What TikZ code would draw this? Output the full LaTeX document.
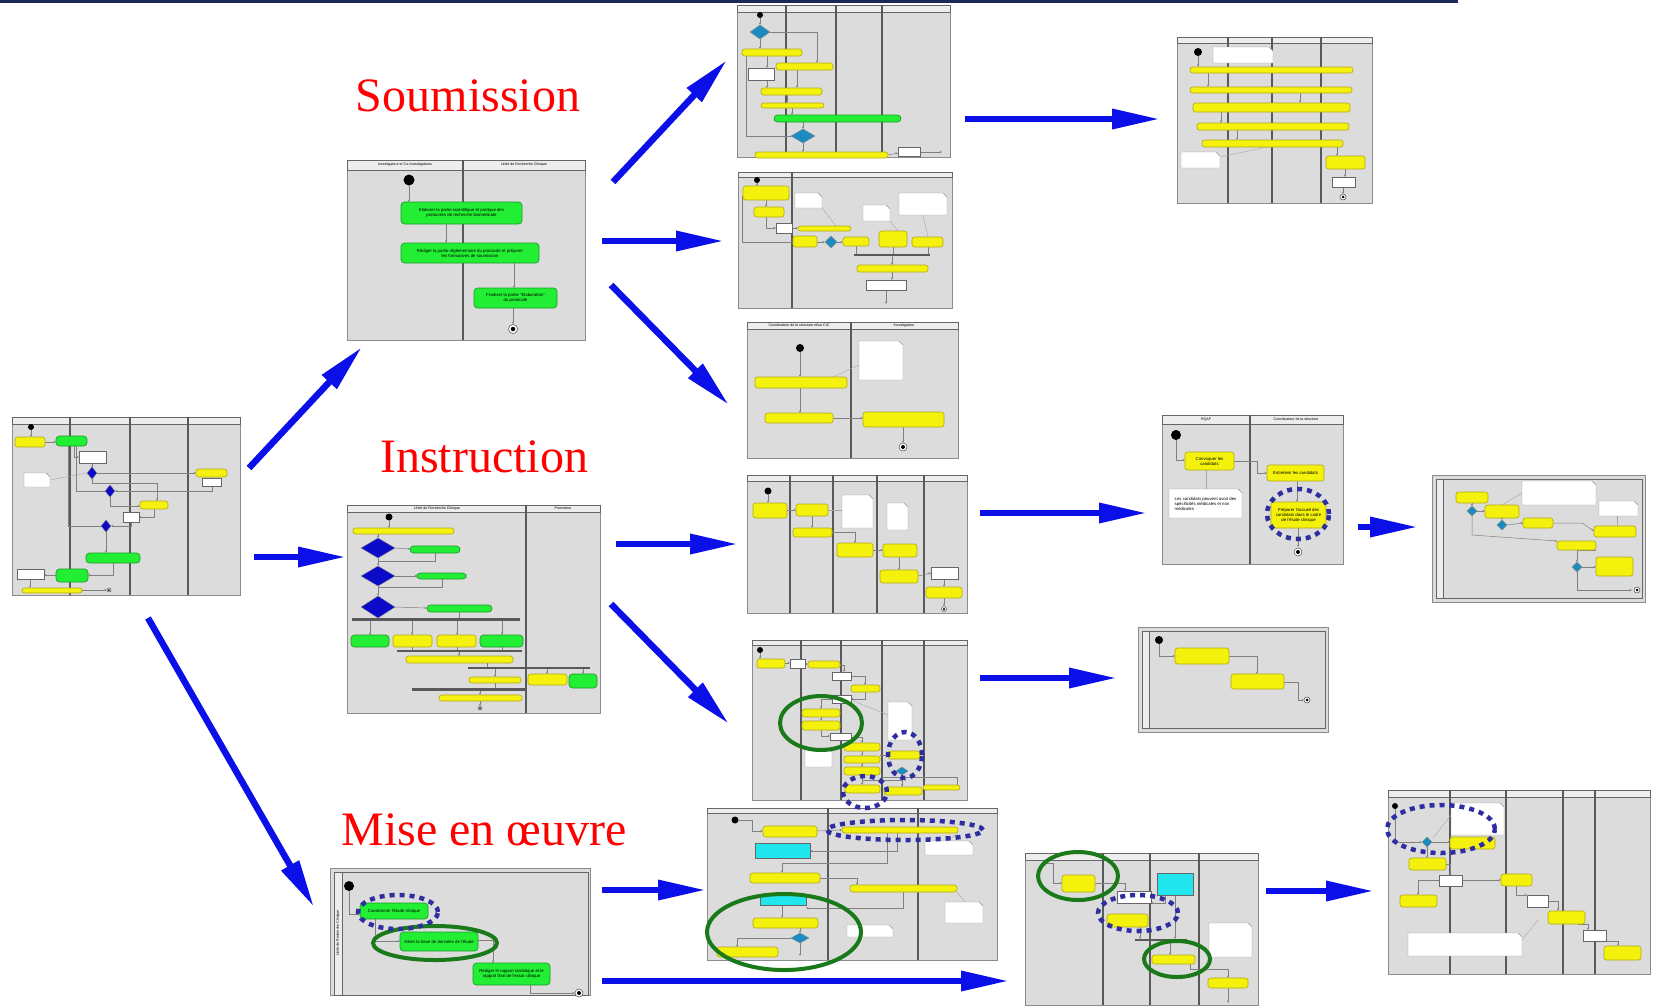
\documentclass[tikz,border=0pt]{standalone}
\usepackage{fontspec}
\setmainfont{Liberation Serif}
\newfontfamily\tf{Liberation Sans}
\usetikzlibrary{arrows.meta,shapes.geometric}
\definecolor{navyline}{HTML}{1B2A55}
\definecolor{thumbbg}{HTML}{DCDCDC}
\definecolor{hdrbg}{HTML}{EDEDED}
\definecolor{yfill}{HTML}{F4F20C}
\definecolor{ydraw}{HTML}{B0A818}
\definecolor{gfill}{HTML}{22EE33}
\definecolor{gdraw}{HTML}{1E9A2A}
\definecolor{bdia}{HTML}{0A0AC8}
\definecolor{tdia}{HTML}{1A8CC0}
\definecolor{cfill}{HTML}{22E6EE}
\definecolor{arrowblue}{HTML}{0C10E8}
\definecolor{ringgreen}{HTML}{1A7A1A}
\definecolor{ringblue}{HTML}{2E2EA0}
\definecolor{labelred}{HTML}{FF0000}
\tikzset{
 thumb/.style={fill=thumbbg, draw=black!45, line width=0.8pt},
 hdr/.style={fill=hdrbg, draw=black!60, line width=0.5pt},
 lanesep/.style={draw=black!65, line width=1.2pt},
 ybox/.style={fill=yfill, draw=ydraw, line width=0.6pt, rounded corners=2.5pt},
 gbox/.style={fill=gfill, draw=gdraw, line width=0.7pt, rounded corners=3.5pt},
 cbox/.style={fill=cfill, draw=black!60, line width=0.6pt},
 wbox/.style={fill=white, draw=black!60, line width=0.7pt},
 notebox/.style={fill=white, draw=black!40, line width=0.4pt},
 flow/.style={draw=black!50, line width=0.5pt},
 flowa/.style={draw=black!50, line width=0.5pt, -{Stealth[length=2.5pt,width=2.2pt]}},
 dline/.style={draw=black!35, line width=0.4pt},
 bar/.style={fill=black!65, draw=none},
 bigarrow/.style={draw=arrowblue, line width=6.5pt, -{Triangle[length=48pt,width=19pt]}},
 greenring/.style={draw=ringgreen, line width=4pt},
 bluering/.style={draw=ringblue, line width=4.5pt, dash pattern=on 5pt off 5pt},
 biglabel/.style={text=labelred, font=\fontsize{48}{56}\selectfont, inner sep=0pt, anchor=base},
 ttext/.style={font=\tf\fontsize{4.3}{5}\selectfont, align=center, inner sep=0pt},
 htext/.style={font=\tf\fontsize{3.6}{4}\selectfont, inner sep=0pt},
}
\newcommand\YB[4]{\draw[ybox] (#1,#2) rectangle (#3,#4);}
\newcommand\GB[4]{\draw[gbox] (#1,#2) rectangle (#3,#4);}
\newcommand\WB[4]{\draw[wbox] (#1,#2) rectangle (#3,#4);}
\newcommand\CB[4]{\draw[cbox] (#1,#2) rectangle (#3,#4);}
\newcommand\NB[4]{\draw[notebox] (#1,#2) -- ({#3-4},#2) -- (#3,{#2+4}) -- (#3,#4) -- (#1,#4) -- cycle;}
\newcommand\DIA[5]{\draw[fill=#5, draw=black!45, line width=0.4pt] ({#1-#3},#2) -- (#1,{#2-#4}) -- ({#1+#3},#2) -- (#1,{#2+#4}) -- cycle;}
\newcommand\STARTDOT[3]{\fill[black] (#1,#2) circle (#3pt);}
\newcommand\ENDDOT[3]{\draw[fill=white, draw=black!70, line width=0.5pt] (#1,#2) circle (#3pt); \fill[black] (#1,#2) circle ({#3*0.5pt});}
\newcommand\FRAME[3]{\draw[thumb] (0,0) rectangle (#1,#2); \draw[hdr] (0,0) rectangle (#1,#3);}
\newcommand\SEP[2]{\draw[lanesep] (#1,0) -- (#1,#2);}
\newcommand\BAR[4]{\fill[bar] (#1,#2) rectangle (#3,#4);}
\begin{document}
\begin{tikzpicture}[x=1pt,y=-1pt]
\useasboundingbox (0,0) rectangle (1657,1005);
\fill[white] (0,0) rectangle (1657,1005);
\fill[navyline] (0,0) rectangle (1458,2.5);

% ---------- Thumb 1: overview (left)
\begin{scope}[shift={(12,417)}]
\FRAME{228}{178}{7}
\SEP{58}{178}\SEP{118}{178}\SEP{176}{178}
\draw[flow] (64,29)--(64,74)--(93,74);
\draw[flow] (56,29)--(56,109)--(89,109);
\draw[flowa] (19,12)--(19,20);
\draw[flowa] (33,25)--(44,25);
\draw[flowa] (62,29)--(62,40)--(67,40);
\draw[flowa] (80,46)--(80,51);
\draw[flowa] (85,56)--(184,56);
\draw[flowa] (80,61)--(80,66)--(145,66)--(145,84);
\draw[flowa] (200,60)--(200,61);
\draw[flowa] (200,69)--(200,74)--(103,74);
\draw[flowa] (98,79)--(98,89)--(128,89);
\draw[flowa] (142,92)--(142,100)--(127,100);
\draw[flowa] (119,105)--(119,109)--(99,109);
\draw[flowa] (94,114)--(94,136);
\draw[flowa] (101,146)--(101,158)--(76,158);
\draw[flowa] (44,158)--(32,158);
\draw[flowa] (18,162)--(18,171);
\draw[flowa] (70,173)--(95,173);
\draw[dline] (38,63)--(75,56);
\STARTDOT{19}{10}{3}
\YB{3}{20}{33}{30}
\GB{44}{19}{75}{29}
\WB{67}{34}{94}{46}
\DIA{80}{56}{5}{6}{bdia}
\YB{184}{52}{215}{60}
\WB{190}{61}{209}{69}
\NB{12}{56}{38}{70}
\DIA{98}{74}{5}{6}{bdia}
\YB{128}{84}{156}{92}
\WB{111}{95}{127}{105}
\DIA{94}{109}{5}{6}{bdia}
\GB{74}{136}{128}{146}
\WB{5}{152}{32}{162}
\GB{44}{152}{76}{165}
\YB{10}{171}{70}{176}
\ENDDOT{97}{173}{2}
\end{scope}

% ---------- Thumb 2: Soumission
\begin{scope}[shift={(347,160)}]
\FRAME{238}{180}{10}
\SEP{116}{180}
\node[htext] (h2a) at (58,5) {Investigateur et Co-Investigateurs};
\node[htext] (h2b) at (177,5) {Unité de Recherche Clinique};
\STARTDOT{62}{20}{5.5}
\draw[flowa] (62,26)--(62,42);
\GB{54}{42}{175}{64}
\node[ttext] (t2a) at (114.5,53) {Elaborer la partie scientifique et pratique des\\protocoles de recherche biomédicale};
\draw[flowa] (99,64)--(99,83);
\GB{54}{83}{192}{103}
\node[ttext] (t2b) at (123,93) {Rédiger la partie réglementaire du protocole et préparer\\les formulaires de soumission};
\draw[flowa] (167,103)--(167,128);
\GB{127}{128}{210}{148}
\node[ttext] (t2c) at (168.5,138) {Finaliser la partie "Elaboration"\\du protocole};
\draw[flowa] (166,148)--(166,164);
\ENDDOT{166}{169}{4.5}
\end{scope}

% ---------- Thumb 3: Instruction
\begin{scope}[shift={(347,505)}]
\FRAME{253}{208}{7}
\SEP{179}{208}
\node[htext] (h3a) at (90,3.5) {Unité de Recherche Clinique};
\node[htext] (h3b) at (216,3.5) {Promoteur};
\STARTDOT{42}{12}{3.5}
\draw[flowa] (42,15)--(42,23);
\YB{6}{23}{107}{29}
\draw[flowa] (31,29)--(31,33);
\draw[flowa] (48,43)--(63,44);
\draw[flow] (88,48)--(88,56)--(31,56);
\draw[flowa] (31,53)--(31,61);
\draw[flowa] (48,71)--(70,71);
\draw[flow] (95,74)--(95,82)--(31,82);
\draw[flowa] (31,81)--(31,91);
\draw[flowa] (48,102)--(80,103);
\draw[flow] (31,113)--(31,114);
\draw[flow] (112,107)--(112,113);
\DIA{31}{43}{17}{10}{bdia}
\GB{63}{41}{113}{48}
\DIA{31}{71}{17}{10}{bdia}
\GB{70}{68}{119}{74}
\DIA{31}{102}{17}{11}{bdia}
\GB{80}{100}{145}{107}
\BAR{5}{113}{173}{116}
\draw[flowa] (23,116)--(23,130);
\draw[flowa] (65,116)--(65,130);
\draw[flowa] (110,116)--(110,130);
\draw[flowa] (155,116)--(155,130);
\GB{4}{130}{42}{142}
\YB{46}{130}{85}{142}
\YB{90}{130}{129}{142}
\GB{133}{130}{176}{142}
\draw[flow] (65,142)--(65,145);
\draw[flow] (110,142)--(110,145);
\draw[flow] (155,142)--(155,145);
\BAR{50}{145}{175}{147}
\draw[flowa] (112,147)--(112,151);
\YB{59}{151}{166}{158}
\draw[flow] (140,158)--(140,162);
\BAR{121}{162}{243}{164}
\draw[flowa] (148,164)--(148,172);
\draw[flowa] (200,164)--(200,169);
\draw[flowa] (236,164)--(236,169);
\YB{122}{172}{174}{178}
\YB{181}{169}{220}{180}
\GB{222}{169}{250}{183}
\draw[flow] (148,178)--(148,183);
\BAR{65}{183}{180}{186}
\draw[flowa] (133,186)--(133,190);
\YB{92}{190}{175}{196}
\draw[flowa] (133,196)--(133,201);
\ENDDOT{133}{203}{2}
\end{scope}

% ---------- Thumb 4: Mise en oeuvre
\begin{scope}[shift={(330,868)}]
\draw[thumb] (0,0) rectangle (260,127);
\draw[draw=black!60, line width=0.6pt] (4,4) rectangle (258,127);
\draw[hdr] (4,4) rectangle (12,127);
\node[htext, rotate=90] (h4a) at (8,65) {Unité de Recherche Clinique};
\STARTDOT{19}{18}{5}
\draw[flowa] (19,23)--(19,46)--(30,46);
\draw[flowa] (45,51)--(45,73)--(70,73);
\draw[flowa] (148,72)--(163,72)--(163,95);
\draw[flowa] (200,117)--(200,125)--(245,125);
\GB{30}{35}{98}{51}
\node[ttext] (t4a) at (64,43) {Coordonner l'étude clinique};
\GB{70}{64}{148}{83}
\node[ttext] (t4b) at (109,73.5) {Gérer la base de données de l'étude};
\GB{143}{95}{220}{117}
\node[ttext] (t4c) at (181.5,106) {Rédiger le rapport statistique et le\\rapport final de l'essai clinique};
\ENDDOT{249}{125}{4}
\end{scope}

% ---------- Thumb 5 (top middle)
\begin{scope}[shift={(737,5)}]
\FRAME{213}{152}{7}
\SEP{49}{152}\SEP{99}{152}\SEP{145}{152}
\draw[flow] (54,131)--(9,131)--(9,51);
\STARTDOT{23}{10}{3}
\draw[flowa] (23,13)--(23,20);
\draw[flowa] (33,27)--(80,27)--(80,58);
\draw[flowa] (23,34)--(23,44);
\draw[flowa] (30,51)--(30,63);
\draw[flowa] (30,75)--(30,83);
\draw[flowa] (60,65)--(60,83);
\draw[flowa] (50,90)--(50,98);
\draw[flowa] (55,103)--(55,110);
\draw[flowa] (66,117)--(66,124);
\draw[flowa] (66,138)--(66,147);
\draw[flowa] (151,150)--(161,148);
\draw[flowa] (183,147)--(205,147);
\DIA{23}{27}{10}{7}{tdia}
\YB{5}{44}{65}{51}
\WB{11}{63}{37}{75}
\YB{39}{58}{96}{65}
\YB{24}{83}{85}{90}
\YB{24}{98}{87}{103}
\GB{37}{110}{164}{117}
\DIA{66}{131}{12}{7}{tdia}
\YB{18}{147}{151}{153}
\WB{161}{142}{183}{151}
\end{scope}

% ---------- Thumb 6
\begin{scope}[shift={(738,172)}]
\FRAME{214}{136}{5}
\SEP{54}{136}
\draw[flow] (4,24)--(4,70)--(55,70);
\STARTDOT{19}{8}{3}
\draw[flowa] (19,11)--(19,14);
\draw[flowa] (28,28)--(28,35);
\draw[flowa] (28,45)--(28,56)--(38,56);
\draw[flowa] (54,56)--(60,56);
\draw[flowa] (79,70)--(87,70);
\draw[flowa] (99,70)--(105,70);
\draw[flow] (118,74)--(118,82);
\draw[flow] (155,75)--(155,82);
\draw[flow] (190,75)--(190,82);
\draw[flowa] (154,84)--(154,93);
\draw[flowa] (154,100)--(154,108);
\draw[flowa] (148,118)--(148,132);
\draw[dline] (84,36)--(98,54);
\draw[dline] (152,49)--(160,59);
\draw[dline] (185,43)--(190,65);
\YB{5}{14}{51}{28}
\YB{16}{35}{46}{45}
\WB{38}{51}{54}{61}
\NB{57}{21}{84}{36}
\YB{60}{54}{113}{59}
\YB{55}{64}{79}{75}
\DIA{93}{70}{6}{6}{tdia}
\YB{105}{65}{131}{74}
\NB{125}{33}{152}{49}
\YB{141}{59}{169}{75}
\NB{161}{21}{209}{43}
\YB{174}{65}{205}{75}
\BAR{116}{82}{192}{84}
\YB{119}{93}{190}{100}
\WB{128}{108}{168}{118}
\end{scope}

% ---------- Thumb 7
\begin{scope}[shift={(747,322)}]
\FRAME{211}{136}{7}
\SEP{104}{136}
\node[htext] (h7a) at (52,3.5) {Coordinateur de la structure et/ou CIC};
\node[htext] (h7b) at (157,3.5) {Investigateur};
\STARTDOT{53}{26}{4}
\draw[flowa] (53,30)--(53,55);
\draw[flowa] (53,66)--(53,91);
\draw[flowa] (86,96)--(116,96);
\draw[dline] (86,55)--(118,40);
\draw[flowa] (156,105)--(156,121);
\YB{8}{55}{100}{66}
\YB{18}{91}{86}{101}
\NB{112}{19}{156}{58}
\YB{116}{90}{197}{105}
\ENDDOT{156}{125}{4}
\end{scope}

% ---------- Thumb 8
\begin{scope}[shift={(747,475)}]
\FRAME{220}{138}{6}
\SEP{43}{138}\SEP{86}{138}\SEP{130}{138}\SEP{177}{138}
\STARTDOT{21}{16}{3.5}
\draw[flowa] (21,19)--(21,28);
\draw[flowa] (40,35)--(49,35);
\draw[flowa] (65,41)--(65,53);
\draw[flowa] (85,57)--(108,57)--(108,68);
\draw[flowa] (126,75)--(136,75);
\draw[flowa] (152,82)--(152,95);
\draw[flowa] (171,101)--(184,98);
\draw[flowa] (197,104)--(197,112);
\draw[flowa] (197,123)--(197,131);
\draw[dline] (81,35)--(95,35);
\YB{6}{28}{40}{43}
\YB{49}{29}{81}{41}
\YB{46}{53}{85}{62}
\NB{95}{20}{126}{53}
\YB{90}{68}{126}{82}
\NB{140}{28}{161}{55}
\YB{136}{69}{170}{82}
\YB{133}{95}{171}{108}
\WB{184}{92}{211}{104}
\YB{179}{112}{215}{123}
\ENDDOT{197}{134}{2.5}
\end{scope}

% ---------- Thumb 9
\begin{scope}[shift={(752,640)}]
\FRAME{215}{160}{5}
\SEP{49}{160}\SEP{89}{160}\SEP{130}{160}\SEP{172}{160}
\STARTDOT{8}{10}{3}
\draw[flowa] (8,13)--(8,19);
\draw[flowa] (33,23)--(38,23);
\draw[flowa] (53,24)--(56,24);
\draw[flowa] (88,25)--(92,25)--(92,32);
\draw[flowa] (99,36)--(113,36)--(113,45);
\draw[flowa] (113,52)--(113,59)--(99,59);
\draw[flowa] (80,59)--(69,59)--(69,69);
\draw[flowa] (69,77)--(69,81);
\draw[flowa] (69,90)--(69,96)--(78,96);
\draw[flowa] (99,97)--(110,97)--(110,103);
\draw[flowa] (110,111)--(110,116);
\draw[flowa] (110,123)--(110,127);
\draw[flowa] (128,115)--(136,115);
\draw[flow] (110,135)--(110,140)--(150,140)--(150,135);
\draw[flow] (130,137)--(205,137)--(205,145);
\draw[flowa] (110,140)--(110,145);
\draw[flowa] (150,135)--(150,147);
\draw[dline] (99,60)--(136,75);
\YB{5}{19}{33}{28}
\WB{38}{19}{53}{28}
\YB{56}{21}{88}{28}
\WB{80}{32}{99}{40}
\YB{99}{45}{128}{52}
\WB{80}{55}{99}{63}
\YB{50}{69}{88}{77}
\YB{50}{81}{88}{90}
\WB{78}{93}{99}{100}
\NB{136}{62}{160}{100}
\NB{53}{108}{80}{127}
\YB{92}{103}{128}{111}
\YB{92}{116}{128}{123}
\YB{92}{127}{128}{135}
\YB{136}{111}{168}{119}
\DIA{150}{131}{6}{4}{tdia}
\YB{93}{145}{128}{153}
\YB{132}{147}{170}{155}
\YB{171}{145}{208}{150}
\end{scope}

% ---------- Thumb 10
\begin{scope}[shift={(707,808)}]
\FRAME{290}{152}{5}
\SEP{121}{152}\SEP{211}{152}
\STARTDOT{28}{12}{3.5}
\draw[flowa] (31,12)--(45,12)--(45,23)--(56,23);
\draw[flowa] (110,23)--(135,22);
\draw[flowa] (190,25)--(190,43)--(103,43);
\draw[flowa] (180,25)--(180,55)--(75,55)--(75,65);
\draw[flowa] (113,70)--(150,70)--(150,77);
\draw[flowa] (196,84)--(196,100)--(99,100);
\draw[flowa] (75,97)--(75,110);
\draw[flowa] (93,120)--(93,125);
\draw[flowa] (84,130)--(30,130)--(30,139);
\draw[flowa] (93,135)--(93,148);
\draw[dline] (251,25)--(240,33);
\draw[dline] (250,84)--(258,94);
\YB{56}{18}{110}{29}
\YB{135}{19}{251}{25}
\CB{48}{35}{103}{50}
\NB{218}{33}{266}{47}
\YB{43}{65}{113}{75}
\YB{143}{77}{250}{84}
\CB{53}{86}{99}{97}
\NB{238}{94}{276}{115}
\YB{46}{110}{111}{120}
\NB{140}{117}{186}{129}
\DIA{93}{130}{9}{5}{tdia}
\YB{10}{139}{71}{149}
\end{scope}

% ---------- Thumb 11
\begin{scope}[shift={(1025,853)}]
\FRAME{233}{152}{7}
\SEP{78}{152}\SEP{125}{152}\SEP{174}{152}
\draw[flowa] (20,10)--(28,10)--(28,30)--(37,30);
\draw[flowa] (70,30)--(100,30)--(100,38);
\draw[flowa] (150,42)--(150,86);
\draw[flowa] (140,42)--(140,50)--(126,50);
\draw[flowa] (115,74)--(115,86);
\draw[flowa] (145,88)--(145,102);
\draw[flowa] (165,111)--(165,116)--(203,116)--(203,125);
\draw[flowa] (203,135)--(203,150);
\YB{37}{22}{70}{39}
\CB{132}{20}{168}{42}
\WB{92}{38}{126}{50}
\YB{82}{61}{123}{74}
\BAR{110}{86}{162}{88}
\YB{127}{102}{170}{111}
\NB{184}{70}{227}{104}
\YB{183}{125}{223}{135}
\end{scope}

% ---------- Thumb 12 (top right)
\begin{scope}[shift={(1177,37)}]
\FRAME{195}{166}{6}
\SEP{51}{166}\SEP{95}{166}\SEP{144}{166}
\STARTDOT{21}{15}{4}
\draw[flowa] (21,19)--(21,30);
\draw[flowa] (31,36)--(31,50);
\draw[flowa] (123,56)--(123,66);
\draw[flowa] (44,75)--(44,86);
\draw[flowa] (60,93)--(60,103);
\draw[flowa] (160,110)--(160,119);
\draw[flowa] (168,132)--(168,140);
\draw[flowa] (166,150)--(166,157);
\draw[dline] (43,120)--(90,110);
\NB{36}{10}{96}{26}
\YB{13}{30}{176}{36}
\YB{13}{50}{175}{56}
\YB{16}{66}{173}{75}
\YB{20}{86}{172}{93}
\YB{25}{103}{166}{110}
\NB{4}{115}{43}{131}
\YB{149}{119}{188}{132}
\WB{155}{140}{178}{150}
\ENDDOT{166}{160}{3}
\end{scope}

% ---------- Thumb 13
\begin{scope}[shift={(1162,415)}]
\FRAME{181}{149}{9}
\SEP{88}{149}
\node[htext] (h13a) at (44,4.5) {RQAF};
\node[htext] (h13b) at (134,4.5) {Coordinateur de la structure};
\STARTDOT{14}{20}{5}
\draw[flowa] (14,25)--(14,45)--(23,45);
\draw[flowa] (72,46)--(95,46)--(95,58)--(105,58);
\draw[flowa] (135,66)--(135,87);
\draw[flowa] (136,113)--(136,132);
\draw[dline] (44,55)--(44,74);
\YB{23}{37}{72}{55}
\node[ttext] (t13a) at (47.5,46) {Convoquer les\\candidats};
\YB{105}{50}{162}{66}
\node[ttext] (t13b) at (133.5,58) {Entretenir les candidats};
\YB{109}{87}{164}{113}
\node[ttext] (t13c) at (136.5,100) {Préparer l'accueil des\\candidats dans le cadre\\de l'étude clinique};
\NB{7}{74}{80}{103}
\node[ttext, align=left] (t13d) at (43.5,88.5) {Les candidats peuvent avoir des\\spécificités médicales et non\\médicales};
\ENDDOT{136}{137}{4}
\end{scope}

% ---------- Thumb 14
\begin{scope}[shift={(1432,475)}]
\draw[thumb] (0,0) rectangle (213,127);
\draw[draw=black!60, line width=0.6pt] (4,4) rectangle (210,123);
\draw[hdr] (4,4) rectangle (11,123);
\draw[flowa] (40,28)--(40,31);
\draw[flowa] (45,36)--(53,36);
\draw[flowa] (70,43)--(70,45);
\draw[flowa] (75,50)--(91,48);
\draw[flowa] (40,41)--(40,60)--(125,66);
\draw[flowa] (121,48)--(150,48)--(162,56);
\draw[flowa] (164,75)--(145,75)--(145,87);
\draw[flowa] (150,92)--(164,92);
\draw[flowa] (145,97)--(145,115)--(200,115);
\draw[dline] (90,18)--(70,30);
\draw[dline] (185,41)--(185,51);
\YB{24}{17}{56}{28}
\DIA{40}{36}{5}{5}{tdia}
\YB{53}{30}{87}{43}
\DIA{70}{50}{5}{5}{tdia}
\NB{90}{6}{164}{30}
\YB{91}{43}{121}{53}
\NB{167}{26}{206}{41}
\YB{162}{51}{204}{62}
\YB{125}{66}{164}{75}
\DIA{145}{92}{5}{5}{tdia}
\YB{164}{82}{201}{101}
\ENDDOT{205}{115}{3}
\end{scope}

% ---------- Thumb 15
\begin{scope}[shift={(1138,627)}]
\draw[thumb] (0,0) rectangle (190,105);
\draw[draw=black!60, line width=0.6pt] (4,4) rectangle (187,101);
\draw[hdr] (4,4) rectangle (11,101);
\STARTDOT{21}{13}{4}
\draw[flowa] (21,17)--(21,29)--(37,29);
\draw[flowa] (91,29)--(119,29)--(119,47);
\draw[flowa] (146,55)--(160,55)--(160,73)--(166,73);
\YB{37}{21}{91}{37}
\YB{93}{47}{146}{62}
\ENDDOT{169}{73}{3}
\end{scope}

% ---------- Thumb 16
\begin{scope}[shift={(1388,790)}]
\FRAME{262}{184}{7}
\SEP{62}{184}\SEP{118}{184}\SEP{175}{184}\SEP{207}{184}
\STARTDOT{7}{16}{3}
\draw[flowa] (7,19)--(7,52)--(34,52);
\draw[flowa] (44,52)--(62,52);
\draw[flowa] (39,57)--(39,68);
\draw[flowa] (46,74)--(62,74)--(62,85);
\draw[flowa] (74,90)--(113,90);
\draw[flowa] (51,90)--(30,90)--(30,105);
\draw[flowa] (128,96)--(128,105)--(139,105);
\draw[flowa] (160,111)--(170,111)--(170,121);
\draw[flowa] (190,134)--(200,134)--(200,140);
\draw[flowa] (210,151)--(230,151)--(230,156);
\draw[dline] (63,25)--(45,48);
\draw[dline] (134,150)--(150,130);
\NB{63}{13}{116}{45}
\DIA{39}{52}{5}{5}{tdia}
\YB{62}{47}{107}{59}
\YB{21}{68}{58}{80}
\WB{51}{85}{74}{96}
\YB{113}{84}{144}{96}
\YB{12}{105}{49}{117}
\WB{139}{105}{160}{117}
\YB{160}{121}{197}{134}
\WB{195}{140}{218}{151}
\NB{20}{143}{134}{166}
\YB{216}{156}{253}{170}
\end{scope}

% ---------- Section labels
\node[biglabel] (lsoum) at (468,111) {Soumission};
\node[biglabel] (linst) at (484,472) {Instruction};
\node[biglabel] (lmise) at (484,845) {Mise en œuvre};

% ---------- Big blue arrows
\coordinate (a1s) at (249,468); \coordinate (a1e) at (362,347);
\coordinate (a2s) at (254,557); \coordinate (a2e) at (346,557);
\coordinate (a3s) at (148,618); \coordinate (a3e) at (314,907);
\coordinate (a4s) at (613,182); \coordinate (a4e) at (727,60);
\coordinate (a5s) at (602,241); \coordinate (a5e) at (724,241);
\coordinate (a6s) at (611,285); \coordinate (a6e) at (729,405);
\coordinate (a7s) at (965,119); \coordinate (a7e) at (1160,119);
\coordinate (a8s) at (616,544); \coordinate (a8e) at (738,544);
\coordinate (a9s) at (611,604); \coordinate (a9e) at (729,724);
\coordinate (a10s) at (980,513); \coordinate (a10e) at (1147,513);
\coordinate (a11s) at (1358,527); \coordinate (a11e) at (1418,527);
\coordinate (a12s) at (980,678); \coordinate (a12e) at (1117,678);
\coordinate (a13s) at (602,890); \coordinate (a13e) at (706,890);
\coordinate (a14s) at (602,981); \coordinate (a14e) at (1009,981);
\coordinate (a15s) at (1266,891); \coordinate (a15e) at (1374,891);
\foreach \i in {1,...,15} {\draw[bigarrow] (a\i s) -- (a\i e);}

% ---------- Highlight rings
\draw[greenring] (435,943) ellipse [x radius=62pt, y radius=17pt];
\draw[greenring] (821,723) ellipse [x radius=41pt, y radius=27pt];
\draw[greenring] (784,932) ellipse [x radius=77pt, y radius=38pt];
\draw[greenring] (1078,876) ellipse [x radius=40pt, y radius=24pt];
\draw[greenring] (1177,959) ellipse [x radius=33pt, y radius=18pt];
\draw[bluering] (398,912) ellipse [x radius=40pt, y radius=17pt];
\draw[bluering] (905,755) ellipse [x radius=17pt, y radius=23pt];
\draw[bluering] (865,792) ellipse [x radius=22pt, y radius=16pt];
\draw[bluering] (905,830) ellipse [x radius=78pt, y radius=10pt];
\draw[bluering] (1138,913) ellipse [x radius=40pt, y radius=18pt];
\draw[bluering] (1298,514) ellipse [x radius=31pt, y radius=25pt];
\draw[bluering] (1441,829) ellipse [x radius=54pt, y radius=24pt];
\end{tikzpicture}
\end{document}
